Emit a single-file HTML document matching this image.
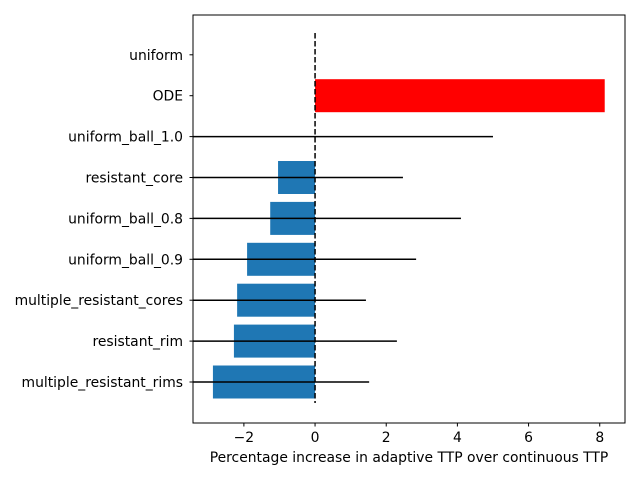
<!DOCTYPE html>
<html><head><meta charset="utf-8"><style>
body{margin:0;background:#fff;font-family:"Liberation Sans","DejaVu Sans",sans-serif;}
svg text{font-family:"DejaVu Sans","Liberation Sans",sans-serif;font-size:13.9px;fill:#000;}
</style></head><body>
<svg id="chart" width="640" height="480">
<defs><clipPath id="clip"><rect x="193" y="15" width="432" height="408"/></clipPath></defs>
<g id="marks" clip-path="url(#clip)"></g>
<rect x="193" y="15" width="432" height="408" fill="none" stroke="#000" stroke-width="1"/>
<g id="axes"></g>
<text x="409" y="462" text-anchor="middle">Percentage increase in adaptive TTP over continuous TTP</text>
</svg>
<script>
const categories=["multiple_resistant_rims","resistant_rim","multiple_resistant_cores","uniform_ball_0.9","uniform_ball_0.8","resistant_core","uniform_ball_1.0","ODE","uniform"];
const values=[-2.87,-2.28,-2.19,-1.91,-1.26,-1.04,0,8.14,0];
const errors=[4.39,4.58,3.62,4.75,5.36,3.51,5.0,null,null];
const colors=["#1f77b4","#1f77b4","#1f77b4","#1f77b4","#1f77b4","#1f77b4","#1f77b4","#ff0000","#1f77b4"];
const xTicks=[-2,0,2,4,6,8];
const NS="http://www.w3.org/2000/svg";
const xMin=-3.43,xMax=8.71,L=193,R=625;
const x=v=>L+(v-xMin)/(xMax-xMin)*(R-L);
const y=i=>382-i*40.9;
const bh=33;
function mk(t,a,p){const e=document.createElementNS(NS,t);for(const k in a)e.setAttribute(k,a[k]);p.appendChild(e);return e;}
const marks=document.getElementById('marks'),axes=document.getElementById('axes');
categories.forEach((c,i)=>{
 const v=values[i];
 const r=mk('rect',{x:Math.min(x(0),x(v)),y:y(i)-bh/2,width:Math.abs(x(v)-x(0)),height:bh,fill:colors[i]},marks);
 
 
 if(errors[i]!=null){
  const l=mk('line',{x1:x(v-errors[i]),x2:x(v+errors[i]),y1:y(i),y2:y(i),stroke:'#000','stroke-width':1.5},marks);
  
  
 }
 const tk=mk('line',{x1:193,x2:189.5,y1:y(i),y2:y(i),stroke:'#000'},axes);
 
 
 const t=mk('text',{x:183,y:y(i)+5,'text-anchor':'end'},axes);
 t.textContent=c;
 
 
});
const dl=mk('line',{x1:x(0),x2:x(0),y1:33,y2:403,stroke:'#000','stroke-width':1.5,'stroke-dasharray':'5.5,2.5'},marks);


xTicks.forEach(v=>{
 const tk=mk('line',{x1:x(v),x2:x(v),y1:423,y2:426.5,stroke:'#000'},axes);
 
 
 const t=mk('text',{x:x(v),y:442,'text-anchor':'middle'},axes);
 t.textContent=v<0?'\u2212'+Math.abs(v):String(v);
 
 
});
</script>
</body></html>
